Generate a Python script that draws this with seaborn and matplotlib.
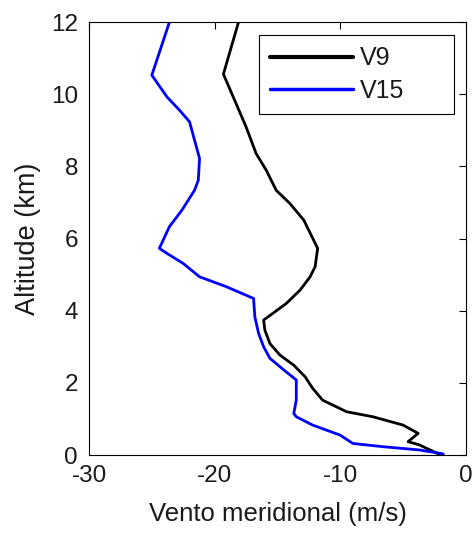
import numpy as np
import pandas as pd
import seaborn as sns
from matplotlib import pyplot as plt

# Wind profiles (m/s) against altitude (km)
v9_wind = [-2.1, -2.3, -3.7, -4.6, -3.8, -5.0, -7.4, -9.5, -11.4, -12.2, -12.8,
           -13.7, -14.8, -15.6, -16.0, -16.1, -14.3, -13.2, -12.4, -12.0, -11.8,
           -12.9, -14.0, -15.1, -15.9, -16.7, -17.5, -19.3, -18.1]
v9_alt = [0.0, 0.05, 0.28, 0.37, 0.6, 0.83, 1.06, 1.2, 1.52, 1.85, 2.17,
          2.49, 2.77, 3.09, 3.46, 3.74, 4.2, 4.57, 4.94, 5.22, 5.73,
          6.51, 6.97, 7.34, 7.9, 8.36, 9.1, 10.56, 12.0]

v15_wind = [-1.8, -3.7, -6.6, -9.0, -10.0, -11.1, -12.2, -13.5, -13.7, -13.5,
            -13.5, -14.5, -15.6, -16.1, -16.5, -16.8, -16.9, -19.1, -21.2, -22.5,
            -23.8, -24.4, -23.6, -22.6, -21.6, -21.3, -21.2, -21.6, -22.0, -22.8,
            -23.8, -25.0, -23.6]
v15_alt = [0.03, 0.14, 0.23, 0.32, 0.55, 0.69, 0.83, 1.06, 1.15, 1.52,
           2.08, 2.36, 2.68, 3.0, 3.37, 3.83, 4.34, 4.67, 4.94, 5.31,
           5.59, 5.73, 6.33, 6.79, 7.34, 7.62, 8.22, 8.73, 9.24, 9.56,
           9.93, 10.53, 12.0]

series_names = ['V9', 'V15']
series_colors = ['black', 'blue']

df = pd.concat([
    pd.DataFrame({'wind': v9_wind, 'alt': v9_alt, 'serie': 'V9'}),
    pd.DataFrame({'wind': v15_wind, 'alt': v15_alt, 'serie': 'V15'}),
])

sns.set_theme(style='white')
plt.rcParams['font.family'] = ['Liberation Sans', 'DejaVu Sans']
plt.rcParams['axes.unicode_minus'] = False
txt_color = '#1a1a1a'

fig = plt.figure(figsize=(4.72, 5.54), dpi=100)
ax = fig.add_axes([0.1886, 0.1787, 0.7984, 0.7813])

sns.lineplot(data=df, x='wind', y='alt', hue='serie', hue_order=series_names,
             palette=series_colors, sort=False, estimator=None, units='serie',
             linewidth=2, ax=ax)

ax.set_xlim(-30, 0)
ax.set_ylim(0, 12)
ax.set_xticks([-30, -20, -10, 0])
ax.set_yticks(np.arange(0, 13, 2))
ax.tick_params(direction='in', length=5, width=0.8, top=True, right=True,
               colors='black', labelcolor=txt_color, labelsize=17.5)
ax.tick_params(axis='x', pad=7)
ax.tick_params(axis='y', pad=8)
for s in ax.spines.values():
    s.set_visible(True)
    s.set_color('black')
    s.set_linewidth(0.8)

ax.set_xlabel('Vento meridional (m/s)', fontsize=18.5, color=txt_color, labelpad=11)
ax.set_ylabel('Altitude (km)', fontsize=19.5, color=txt_color, labelpad=7)

leg = ax.legend(bbox_to_anchor=(0.451, 0.788, 0.517, 0.182), loc='upper left',
                mode='expand', fontsize=18, frameon=True, fancybox=False,
                edgecolor='black', framealpha=1, handlelength=3.3,
                handletextpad=0.3, borderaxespad=0, borderpad=0.45,
                labelspacing=0.35)
leg.get_frame().set_linewidth(0.8)
for line, lw in zip(leg.get_lines(), [3, 2.5]):
    line.set_linewidth(lw)
for t in leg.get_texts():
    t.set_color(txt_color)

fig.savefig('out.png', dpi=100)
